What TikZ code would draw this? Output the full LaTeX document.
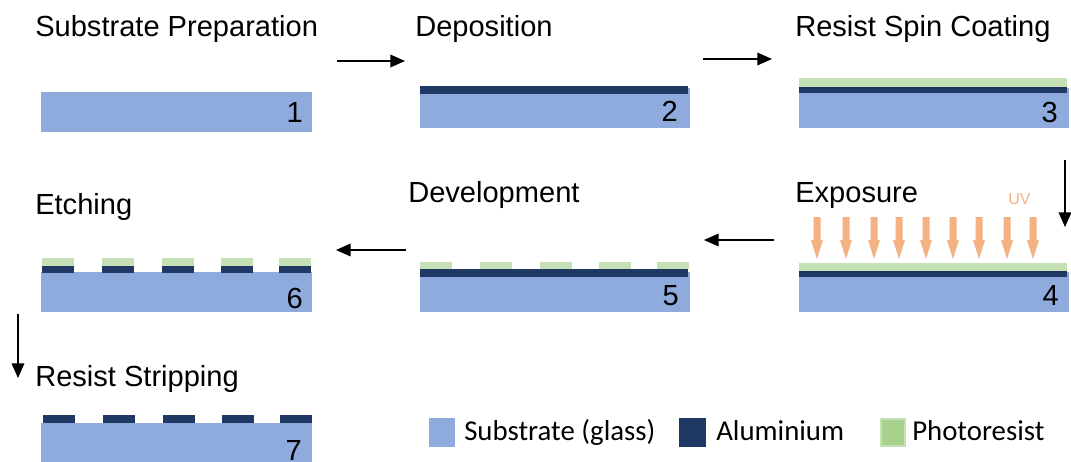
\documentclass[tikz,border=0pt]{standalone}
\usepackage{fontspec}
\setmainfont{Liberation Sans}
\newfontfamily\legfont{Carlito}
\usetikzlibrary{arrows.meta}
\definecolor{subc}{HTML}{8FAADC}
\definecolor{alc}{HTML}{203864}
\definecolor{prc}{HTML}{C5E0B4}
\definecolor{prleg}{HTML}{A9D18E}
\definecolor{uvc}{HTML}{F4B183}
\tikzset{
  title/.style={anchor=base west,inner sep=0pt,font=\fontsize{21.8}{26}\selectfont},
  num/.style={anchor=base east,inner sep=0pt,font=\fontsize{21.8}{26}\selectfont},
  leg/.style={anchor=base west,inner sep=0pt,font=\legfont\fontsize{21.6}{26}\selectfont},
  flow/.style={line width=1pt,-{Triangle[length=11pt,width=9.5pt]}},
  sub/.style={fill=subc},
  al/.style={fill=alc},
  pr/.style={fill=prc},
}
\begin{document}
\begin{tikzpicture}[x=0.75pt,y=-0.75pt]
\clip (0,0) rectangle (1071,461);
\fill[white] (0,0) rectangle (1071,461);
% titles
\node[title] (t1) at (35,36) {Substrate Preparation};
\node[title] (t2) at (415,36) {Deposition};
\node[title] (t3) at (795,36) {Resist Spin Coating};
\node[title] (t4) at (795,202) {Exposure};
\node[title] (t5) at (408,202) {Development};
\node[title] (t6) at (35,214) {Etching};
\node[title] (t7) at (35,386) {Resist Stripping};
% panel 1
\fill[sub] (41,92) rectangle (312,132);
\node[num] (n1) at (303,122) {1};
% panel 2
\fill[sub] (420,88) rectangle (690,128);
\fill[al] (420,86) rectangle (688,94);
\node[num] (n2) at (678,121) {2};
% panel 3
\fill[sub] (799,88) rectangle (1069,128);
\fill[al] (799,87) rectangle (1067,93);
\fill[pr] (799,78) rectangle (1067,87);
\node[num] (n3) at (1058,122) {3};
% panel 4
\fill[sub] (799,272) rectangle (1069,312);
\fill[al] (799,271) rectangle (1067,277);
\fill[pr] (799,263) rectangle (1067,271);
\node[num] (n4) at (1059,305) {4};
\foreach \x in {817,846,874,899,926,953,979,1007,1033}{
  \fill[uvc] (\x-3.5,217) -- (\x+3.5,217) -- (\x+3.5,240) -- (\x+6,240)
    -- (\x,259) -- (\x-6,240) -- (\x-3.5,240) -- cycle;
}
\node[anchor=base west,inner sep=0pt,text=uvc,font=\fontsize{12}{14}\selectfont] (uv) at (1008,204) {UV};
% panel 5
\fill[sub] (420,272) rectangle (690,312);
\fill[al] (420,269) rectangle (688,277);
\foreach \x in {420,480,540,599,657}{
  \fill[pr] (\x,262) rectangle (\x+32,269);
}
\node[num] (n5) at (679,305) {5};
% panel 6
\fill[sub] (41,272) rectangle (312,312);
\foreach \x in {42,102,162,221,279}{
  \fill[al] (\x,266) rectangle (\x+32,273);
  \fill[pr] (\x,258) rectangle (\x+32,266);
}
\node[num] (n6) at (303,308) {6};
% panel 7
\fill[sub] (41,423) rectangle (312,470);
\foreach \x in {43,103,163,222,280}{
  \fill[al] (\x,415) rectangle (\x+32,423);
}
\node[num] (n7) at (302,460) {7};
% flow arrows
\coordinate (a1s) at (337,61);  \coordinate (a1e) at (405,61);
\coordinate (a2s) at (703,59);  \coordinate (a2e) at (772,59);
\coordinate (a3s) at (1065,160); \coordinate (a3e) at (1065,227);
\coordinate (a4s) at (774,240); \coordinate (a4e) at (704,240);
\coordinate (a5s) at (406,250); \coordinate (a5e) at (336,250);
\coordinate (a6s) at (18,314);  \coordinate (a6e) at (18,378);
\draw[flow] (a1s) -- (a1e);
\draw[flow] (a2s) -- (a2e);
\draw[flow] (a3s) -- (a3e);
\draw[flow] (a4s) -- (a4e);
\draw[flow] (a5s) -- (a5e);
\draw[flow] (a6s) -- (a6e);
% legend
\fill[subc] (429,418) rectangle (455,447);
\node[leg] (l1) at (464,440) {Substrate (glass)};
\fill[alc] (679,418) rectangle (706,447);
\node[leg] (l2) at (716,440) {Aluminium};
\fill[prleg,draw=prc,line width=1.5pt] (881,419) rectangle (905,446);
\node[leg] (l3) at (912,440) {Photoresist};
\end{tikzpicture}
\end{document}
